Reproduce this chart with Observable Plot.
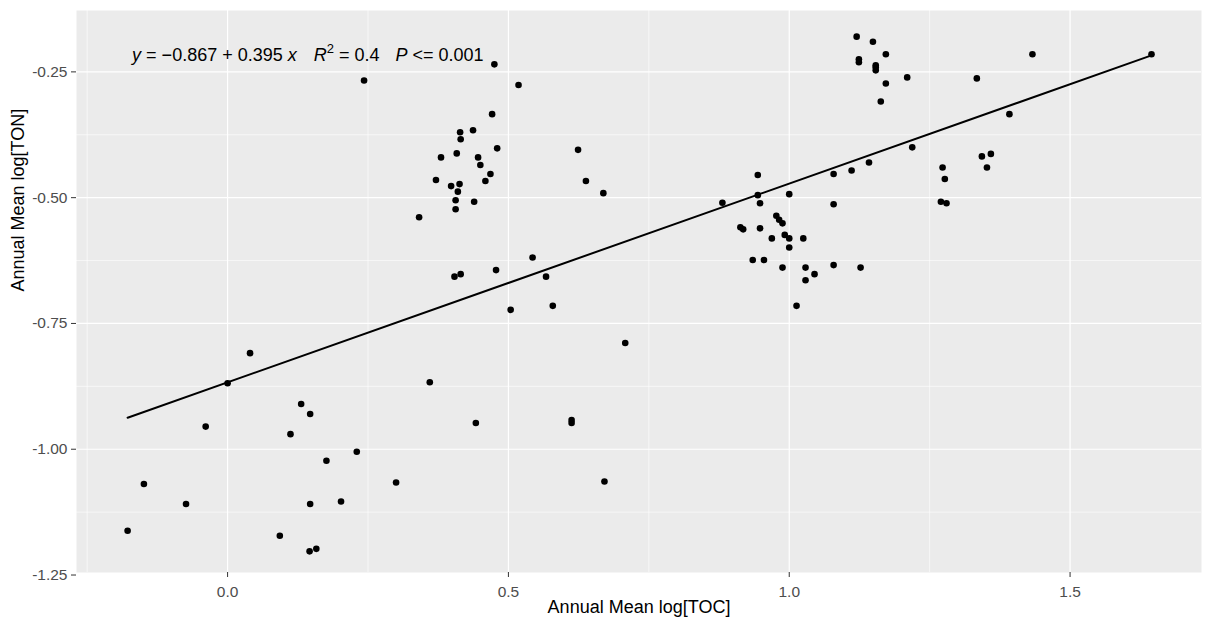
<!DOCTYPE html>
<html>
<head>
<meta charset="utf-8">
<script src="https://cdn.jsdelivr.net/npm/d3@7"></script>
<script src="https://cdn.jsdelivr.net/npm/@observablehq/plot@0.6"></script>
<style>
  html, body { margin: 0; padding: 0; background: #fff; }
  #chart svg { display: block; }
</style>
</head>
<body>
<div id="chart"></div>
<script>
// Annual mean log[TOC] (x) and log[TON] (y)
const toc = [
  -0.178, -0.149, -0.074, -0.039, 0.000, 0.040, 0.093, 0.112, 0.131, 0.147,
  0.147, 0.146, 0.158, 0.176, 0.202, 0.230, 0.300, 0.243, 0.475, 0.518,
  0.471, 0.437, 0.414, 0.415, 0.480, 0.380, 0.408, 0.446, 0.450, 0.468,
  0.459, 0.371, 0.398, 0.413, 0.410, 0.406, 0.439, 0.406, 0.341, 0.624,
  0.638, 0.669, 0.404, 0.415, 0.478, 0.543, 0.567, 0.504, 0.579, 0.708,
  0.360, 0.442, 0.6125, 0.6125, 0.671, 0.944, 0.881, 0.944, 0.948, 0.913,
  0.918, 0.948, 0.977, 0.982, 0.988, 0.969, 0.935, 0.955, 0.988, 0.992,
  1.000, 1.025, 1.000, 1.029, 1.045, 1.029, 1.079, 1.127, 1.013, 1.000,
  1.079, 1.079, 1.111, 1.142, 1.219, 1.120, 1.149, 1.172, 1.124, 1.124,
  1.154, 1.154, 1.154, 1.210, 1.172, 1.163, 1.433, 1.645, 1.334, 1.392,
  1.343, 1.359, 1.352, 1.273, 1.277, 1.270, 1.280
];
const ton = [
  -1.162, -1.069, -1.109, -0.955, -0.869, -0.809, -1.172, -0.970, -0.910, -0.930,
  -1.109, -1.203, -1.198, -1.023, -1.104, -1.005, -1.066, -0.267, -0.235, -0.276,
  -0.334, -0.366, -0.370, -0.384, -0.402, -0.420, -0.412, -0.420, -0.435, -0.453,
  -0.467, -0.465, -0.477, -0.473, -0.488, -0.505, -0.508, -0.523, -0.539, -0.405,
  -0.467, -0.491, -0.657, -0.652, -0.644, -0.619, -0.657, -0.723, -0.715, -0.789,
  -0.867, -0.948, -0.942, -0.948, -1.064, -0.455, -0.510, -0.495, -0.511, -0.559,
  -0.563, -0.561, -0.536, -0.544, -0.551, -0.581, -0.624, -0.624, -0.639, -0.574,
  -0.581, -0.581, -0.599, -0.639, -0.652, -0.664, -0.634, -0.639, -0.715, -0.493,
  -0.513, -0.453, -0.446, -0.430, -0.400, -0.180, -0.190, -0.215, -0.225, -0.231,
  -0.237, -0.241, -0.247, -0.261, -0.273, -0.309, -0.215, -0.215, -0.263, -0.334,
  -0.418, -0.413, -0.440, -0.440, -0.463, -0.508, -0.511
];

// Fitted model from the annotation
const intercept = -0.867;
const slope = 0.395;
const r2Label = "0.4";
const pLabel = "0.001";

// Axis ticks
const xTicks = [0.0, 0.5, 1.0, 1.5];
const xMinor = [-0.25, 0.25, 0.75, 1.25];
const yTicks = [-0.25, -0.50, -0.75, -1.00, -1.25];
const yMinor = [-0.375, -0.625, -0.875, -1.125];
const xDomain = [-0.269, 1.734];
const yDomain = [-1.245, -0.128];

const xLabel = "Annual Mean log[TOC]";
const yLabel = "Annual Mean log[TON]";

const points = toc.map((x, i) => ({x, y: ton[i]}));
const xExt = d3.extent(toc);
const fitLine = xExt.map(x => ({x, y: intercept + slope * x}));

const annot = [{x: -0.170, y: -0.217}];

const plot = Plot.plot({
  width: 1205,
  height: 626,
  marginLeft: 76,
  marginRight: 4,
  marginTop: 10,
  marginBottom: 54,
  style: {fontFamily: "Liberation Sans, Arial, sans-serif", background: "#fff"},
  x: {domain: xDomain, label: null},
  y: {domain: yDomain, label: null},
  marks: [
    Plot.frame({fill: "#EBEBEB", stroke: null}),
    Plot.ruleX(xMinor, {stroke: "#fff", strokeWidth: 0.6}),
    Plot.ruleY(yMinor, {stroke: "#fff", strokeWidth: 0.6}),
    Plot.ruleX(xTicks, {stroke: "#fff", strokeWidth: 1.2}),
    Plot.ruleY(yTicks, {stroke: "#fff", strokeWidth: 1.2}),
    Plot.axisX(xTicks, {
      tickSize: 5, tickPadding: 8, stroke: "#333", fill: "#4D4D4D",
      fontSize: 15.5, tickFormat: d => d.toFixed(1), label: null
    }),
    Plot.axisY(yTicks, {
      tickSize: 5, tickPadding: 4, stroke: "#333", fill: "#4D4D4D",
      fontSize: 15.5, tickFormat: d => d.toFixed(2), label: null
    }),
    Plot.line(fitLine, {x: "x", y: "y", stroke: "#000", strokeWidth: 2}),
    Plot.dot(points, {x: "x", y: "y", r: 3.3, fill: "#000", stroke: null}),
    Plot.text(annot, {x: "x", y: "y", text: () => "annotation", textAnchor: "start",
      fontSize: 18, fill: "#000", className: "eqlabel"}),
    Plot.text([xLabel], {frameAnchor: "bottom", dy: 40, fontSize: 18, fill: "#000"}),
    Plot.text([yLabel], {frameAnchor: "left", dx: -58, rotate: -90, fontSize: 18, fill: "#000"})
  ]
});

// Rich text for the regression annotation (italic symbols, superscript)
const t = d3.select(plot).select("g.eqlabel text");
t.text(null);
const add = (s, italic, opts = {}) => {
  const ts = t.append("tspan").text(s);
  if (italic) ts.attr("font-style", "italic");
  for (const k in opts) ts.attr(k, opts[k]);
  return ts;
};
add("y", true);
add(" = \u2212" + Math.abs(intercept).toFixed(3) + " + " + slope.toFixed(3) + " ", false);
add("x", true);
add("R", true, {dx: 17});
add("2", false, {"font-size": 13, dy: -8});
add(" = " + r2Label, false, {dy: 8});
add("P", true, {dx: 16});
add(" <= " + pLabel, false);

document.getElementById("chart").appendChild(plot);
</script>
</body>
</html>
